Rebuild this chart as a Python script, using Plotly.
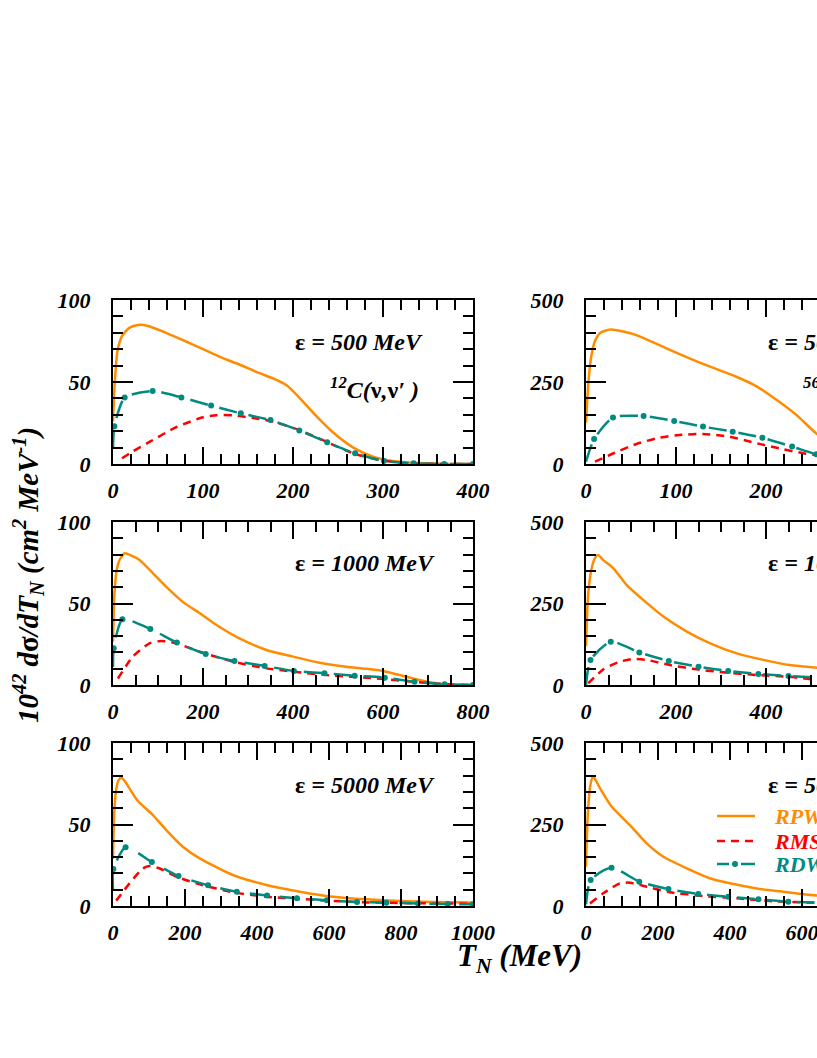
import plotly.graph_objects as go

# ---------------- data ----------------
# 12C, 500 MeV
C500_T_RPWIA = [0, 2, 5, 10, 18, 28, 40, 59, 80, 100, 120, 141, 160, 181, 193, 207, 222, 244, 267, 289, 311, 333, 360, 400]
C500_RPWIA = [26, 50, 69, 78, 83, 84.8, 84, 80, 75, 70, 65, 60.5, 56, 51.5, 48, 40.5, 31.5, 19.5, 10, 4.5, 1.8, 0.8, 0.2, 0]
C500_T_RMSGA = [10, 20, 41, 70, 100, 115, 133, 159, 178, 207, 237, 267, 296, 319, 340, 400]
C500_RMSGA = [3.5, 7, 13.6, 22.4, 28.5, 29.8, 29.7, 27.8, 25.8, 20.7, 13.6, 6.5, 2.4, 0.8, 0.2, 0]
C500_T_RDWIA = [0, 1.5, 13, 44, 76, 109, 142, 175, 207, 238, 269, 301, 334, 368, 400]
C500_RDWIA = [10, 23, 40.6, 44.5, 40.6, 35.6, 30.9, 26.8, 20.5, 13.2, 6.5, 1.8, 0.4, 0, 0]

# 56Fe, 500 MeV
FE500_T_RPWIA = [0, 3, 6, 10, 16, 27, 40, 56, 93, 130, 167, 190, 212, 234, 256, 270]
FE500_RPWIA = [126, 260, 330, 375, 400, 410, 405, 393, 348, 305, 266, 236, 195, 149, 93, 70]
FE500_T_RMSGA = [10, 30, 56, 78, 101, 130, 160, 190, 219, 241, 256, 270]
FE500_RMSGA = [7, 32, 61, 78, 88, 91.5, 83, 63, 45, 33, 27, 22]
FE500_T_RDWIA = [0, 9, 30, 64, 98, 130, 163, 196, 229, 256, 270]
FE500_RDWIA = [7, 76, 142, 146, 131, 114, 98.6, 80, 53, 29.5, 22]

# 12C, 1000 MeV
C1000_T_RPWIA = [0, 3, 8, 15, 26, 40, 59, 89, 118, 155, 193, 230, 281, 341, 400, 459, 518, 560, 600, 637, 674, 711, 748, 800]
C1000_RPWIA = [26.6, 55, 70, 77, 80.8, 79.5, 76.7, 68.5, 60.3, 51, 44, 36.8, 28.6, 21.5, 17.4, 13.7, 11.2, 10, 8.6, 6.1, 3.5, 1.4, 0.4, 0]
C1000_T_RMSGA = [11, 44, 81, 107, 141, 193, 267, 341, 400, 489, 563, 637, 711, 760, 800]
C1000_RMSGA = [4, 17.4, 25.6, 27, 25.6, 20.4, 14.3, 10.2, 8.2, 5.7, 4.5, 2.7, 1, 0.2, 0]
C1000_T_RDWIA = [0, 1.5, 21, 83, 142, 206, 270, 337, 402, 470, 537, 604, 670, 737, 800]
C1000_RDWIA = [11, 22.5, 40.3, 34.4, 26, 19, 14.7, 11.7, 8.6, 7.2, 5.7, 4.5, 2, 0.4, 0]

# 56Fe, 1000 MeV
FE1000_T_RPWIA = [0, 5, 12.6, 20, 27, 38.5, 61, 90, 127, 172, 224, 276, 335, 394, 453, 520]
FE1000_RPWIA = [120, 281, 358, 390, 399, 383, 358, 307, 261, 210, 164, 128, 97, 77, 61, 52]
FE1000_T_RMSGA = [5, 38.5, 75.5, 105, 135, 187, 246, 305, 379, 446, 520]
FE1000_RMSGA = [5, 48, 71.6, 80, 77, 61, 48, 39, 30.7, 25.6, 15]
FE1000_T_RDWIA = [0, 10, 55, 118.5, 184, 250, 316, 383, 450, 520]
FE1000_RDWIA = [0, 77, 133, 100, 73.6, 56, 43, 34, 27.6, 22]

# 12C, 5000 MeV
C5000_T_RPWIA = [0, 3, 8, 15, 23, 35, 46, 69, 111, 148, 194, 241, 333, 426, 519, 611, 704, 796, 889, 1000]
C5000_RPWIA = [29, 55, 70, 77, 78.7, 76, 72, 64.4, 55.8, 46.6, 36.4, 29.2, 19, 12.9, 8.8, 5.7, 4.1, 3.1, 2.5, 2.2]
C5000_T_RMSGA = [9, 46, 83, 102, 130, 176, 241, 333, 426, 519, 611, 704, 889, 1000]
C5000_RMSGA = [3.3, 13.9, 23, 24.5, 23, 18, 13.3, 8.4, 5.7, 4.3, 3.1, 2.2, 1.6, 1.4]
C5000_T_RDWIA = [0, 1, 35, 108, 182, 264, 344, 428, 511, 594, 678, 759, 847, 930, 1000]
C5000_RDWIA = [10, 22.7, 36, 27, 18.4, 12.7, 8.8, 6.5, 4.7, 3.5, 2.5, 2, 1.6, 1.2, 1]

# 56Fe, 5000 MeV
FE5000_T_RPWIA = [0, 5, 12, 20, 39, 71, 122, 168.5, 215, 280, 344, 400, 474, 530, 548, 604, 650]
FE5000_RPWIA = [120.6, 280, 370, 397, 361, 305, 248, 192, 151, 115.5, 85, 69.5, 54, 46, 44, 36, 31]
FE5000_T_RMSGA = [11, 48, 94, 122, 168.5, 233, 326, 419, 511, 604, 650]
FE5000_RMSGA = [8, 39, 69.5, 71.6, 59, 42, 30.7, 23.5, 15.3, 11, 10]
FE5000_T_RDWIA = [0, 13, 71, 148, 229, 312, 395, 479, 562, 650]
FE5000_RDWIA = [5, 80, 117.6, 74.6, 52, 37, 28.6, 20.4, 13.3, 10]

PANEL_LABELS = ["500 MeV", "500 MeV", "1000 MeV", "1000 MeV", "5000 MeV", "5000 MeV"]
LEGEND_NAMES = ["RPWIA", "RMSGA", "RDWIA"]

# ---------------- layout geometry ----------------
W, H = 817, 1058
FONT = "Liberation Serif"
ORANGE, RED, TEAL = "#ff8c00", "#ff0000", "#008b80"


def px(x):
    return x / W


def py(y):
    return 1 - y / H


col_px = [(113, 473), (586, 817)]
row_px = [(300, 464), (522, 685), (743, 906)]
xmax = [400, 800, 1000]
xmajor = [100, 200, 200]
xminor = [20, 50, 50]

panels = [
    (C500_T_RPWIA, C500_RPWIA, C500_T_RMSGA, C500_RMSGA, C500_T_RDWIA, C500_RDWIA),
    (FE500_T_RPWIA, FE500_RPWIA, FE500_T_RMSGA, FE500_RMSGA, FE500_T_RDWIA, FE500_RDWIA),
    (C1000_T_RPWIA, C1000_RPWIA, C1000_T_RMSGA, C1000_RMSGA, C1000_T_RDWIA, C1000_RDWIA),
    (FE1000_T_RPWIA, FE1000_RPWIA, FE1000_T_RMSGA, FE1000_RMSGA, FE1000_T_RDWIA, FE1000_RDWIA),
    (C5000_T_RPWIA, C5000_RPWIA, C5000_T_RMSGA, C5000_RMSGA, C5000_T_RDWIA, C5000_RDWIA),
    (FE5000_T_RPWIA, FE5000_RPWIA, FE5000_T_RMSGA, FE5000_RMSGA, FE5000_T_RDWIA, FE5000_RDWIA),
]

fig = go.Figure()
tickfont = dict(family=FONT, size=22, color="black", weight="bold", style="italic")

for i, (tp, vp, tm, vm, td, vd) in enumerate(panels):
    r, c = divmod(i, 2)
    n = i + 1
    xa = "x" if n == 1 else f"x{n}"
    ya = "y" if n == 1 else f"y{n}"
    common = dict(xaxis=xa, yaxis=ya, showlegend=False, hoverinfo="skip")
    fig.add_trace(go.Scatter(x=tp, y=vp, mode="lines",
                             line=dict(color=ORANGE, width=2.5, shape="spline", smoothing=0.6), **common))
    fig.add_trace(go.Scatter(x=tm, y=vm, mode="lines",
                             line=dict(color=RED, width=2.5, dash="8px,6px", shape="spline", smoothing=0.6), **common))
    fig.add_trace(go.Scatter(x=td, y=vd, mode="lines",
                             line=dict(color=TEAL, width=2.5, dash="18px,12px", shape="spline", smoothing=0.6), **common))
    fig.add_trace(go.Scatter(x=td[1:], y=vd[1:], mode="markers",
                             marker=dict(color=TEAL, size=6), cliponaxis=True, **common))

    x0p, x1p = col_px[c]
    y0p, y1p = row_px[r]
    full_w = 360.0
    rng_x = [0, xmax[r] * (x1p - x0p) / full_w]
    ymax = 100 if c == 0 else 500
    ymaj = 50 if c == 0 else 250
    ymin_ = 10 if c == 0 else 50

    xkey = "xaxis" if n == 1 else f"xaxis{n}"
    ykey = "yaxis" if n == 1 else f"yaxis{n}"
    fig.layout[xkey] = dict(
        domain=[px(x0p), px(x1p)], range=rng_x, anchor=ya, automargin=False,
        tick0=0, dtick=xmajor[r], ticks="inside", ticklen=17, tickwidth=2, tickcolor="black",
        showline=True, linewidth=2, linecolor="black", mirror="allticks",
        showgrid=False, zeroline=False, tickfont=tickfont, ticklabelstandoff=6,
        ticklabeloverflow="allow",
        minor=dict(tick0=0, dtick=xminor[r], ticks="inside", ticklen=10, tickwidth=2,
                   tickcolor="black", showgrid=False),
    )
    fig.layout[ykey] = dict(
        domain=[py(y1p), py(y0p)], range=[0, ymax], anchor=xa, automargin=False,
        tick0=0, dtick=ymaj, ticks="inside", ticklen=20, tickwidth=2, tickcolor="black",
        showline=True, linewidth=2, linecolor="black",
        mirror="allticks" if c == 0 else False,
        showgrid=False, zeroline=False, tickfont=tickfont, ticklabelstandoff=16,
        ticklabeloverflow="allow",
        minor=dict(tick0=0, dtick=ymin_, ticks="inside", ticklen=10, tickwidth=2,
                   tickcolor="black", showgrid=False),
    )

annfont = dict(family=FONT, size=24, color="black", weight="bold", style="italic")
anns = []
text_y = [342, 563, 785]
for i in range(6):
    r, c = divmod(i, 2)
    x0p = col_px[c][0]
    anns.append(dict(xref="paper", yref="paper", x=px(x0p + 180), y=py(text_y[r]),
                     xanchor="left", yanchor="middle", showarrow=False, font=annfont,
                     text="<span style='font-style:normal'>ε</span> = " + PANEL_LABELS[i]))
# reaction labels
for c, nuc in enumerate(["<sup>12</sup>C", "<sup>56</sup>Fe"]):
    anns.append(dict(xref="paper", yref="paper", x=px(col_px[c][0] + 215), y=py(388),
                     xanchor="left", yanchor="middle", showarrow=False, font=annfont,
                     text=nuc + "(<span style='font-style:normal'>ν</span>,"
                               "<span style='font-style:normal'>ν</span>′ )"))

# axis titles
titlefont = dict(family=FONT, size=29, color="black", weight="bold", style="italic")
anns.append(dict(xref="paper", yref="paper", x=px(28), y=py(575), textangle=-90,
                 xanchor="center", yanchor="middle", showarrow=False, font=titlefont,
                 text="10<sup>42</sup> d<span style='font-style:normal'>σ</span>/dT<sub>N</sub>"
                      " (cm<sup>2</sup> MeV<sup>-1</sup>)"))
anns.append(dict(xref="paper", yref="paper", x=px(519), y=py(958),
                 xanchor="center", yanchor="middle", showarrow=False,
                 font=dict(family=FONT, size=31, color="black", weight="bold", style="italic"),
                 text="T<sub>N</sub> (MeV)"))

# legend (inside bottom-right panel)
leg_y = [816, 841, 864]
leg_cols = [ORANGE, RED, TEAL]
shapes = []
shapes.append(dict(type="line", xref="paper", yref="paper", x0=px(717), x1=px(755),
                   y0=py(leg_y[0]), y1=py(leg_y[0]), line=dict(color=ORANGE, width=2.5)))
shapes.append(dict(type="line", xref="paper", yref="paper", x0=px(717), x1=px(755),
                   y0=py(leg_y[1]), y1=py(leg_y[1]), line=dict(color=RED, width=2.5, dash="8px,6px")))
shapes.append(dict(type="line", xref="paper", yref="paper", x0=px(717), x1=px(729),
                   y0=py(leg_y[2]), y1=py(leg_y[2]), line=dict(color=TEAL, width=2.5)))
shapes.append(dict(type="line", xref="paper", yref="paper", x0=px(741), x1=px(755),
                   y0=py(leg_y[2]), y1=py(leg_y[2]), line=dict(color=TEAL, width=2.5)))
shapes.append(dict(type="circle", xref="paper", yref="paper", x0=px(732), x1=px(738),
                   y0=py(leg_y[2] + 3), y1=py(leg_y[2] - 3), fillcolor=TEAL, line=dict(color=TEAL, width=0)))
for name, col, yy in zip(LEGEND_NAMES, leg_cols, leg_y):
    anns.append(dict(xref="paper", yref="paper", x=px(772), y=py(yy),
                     xanchor="left", yanchor="middle", showarrow=False,
                     font=dict(family=FONT, size=22, color=col, weight="bold", style="italic"),
                     text=name))

fig.update_layout(
    width=W, height=H, margin=dict(l=0, r=0, t=0, b=0, autoexpand=False),
    paper_bgcolor="white", plot_bgcolor="white",
    annotations=anns, shapes=shapes,
)

fig.write_html(
    "out.html",
    config={"displayModeBar": False},
    post_script="document.body.style.margin='0';document.body.style.overflow='hidden';",
)
